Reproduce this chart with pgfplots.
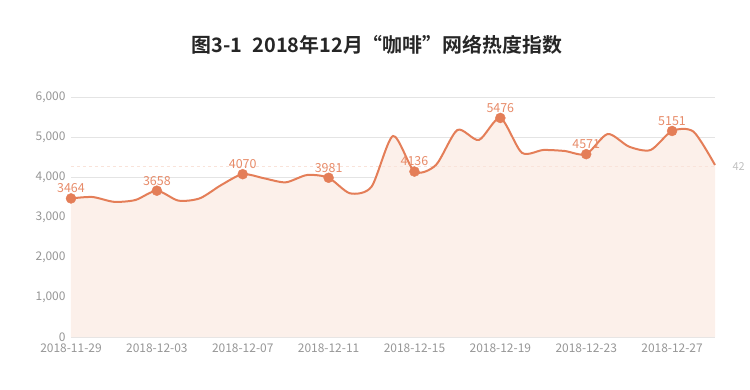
\documentclass[border=0pt]{standalone}
\usepackage{pgfplots}
\pgfplotsset{compat=1.18}
\usepackage{fontspec}
\setmainfont{Noto Sans CJK SC}
\newfontfamily\titlefont{Noto Sans CJK SC Bold}
\definecolor{lc}{RGB}{228,126,88}
\definecolor{fc}{RGB}{252,240,234}
\definecolor{tc}{RGB}{150,150,150}
\definecolor{gc}{RGB}{228,228,228}
\begin{document}
\begin{tikzpicture}[x=1bp,y=1bp]
\useasboundingbox (-71bp,-53bp) rectangle (679bp,337bp);
\begin{axis}[
  at={(0,0)}, anchor=origin,
  scale only axis, width=644bp, height=240bp,
  xmin=0, xmax=30, ymin=0, ymax=6000,
  axis lines=left, axis line style={draw=gc},
  x axis line style={-}, y axis line style={draw=none},
  xtick={0,4,...,28},
  xticklabels={2018-11-29,2018-12-03,2018-12-07,2018-12-11,2018-12-15,2018-12-19,2018-12-23,2018-12-27},
  ytick={0,1000,...,6000},
  yticklabels={0,{1,000},{2,000},{3,000},{4,000},{5,000},{6,000}},
  ymajorgrids, grid style={draw=gc, line width=0.8bp},
  major tick length=0pt,
  tick label style={font=\fontsize{12}{14}\selectfont, text=tc},
  xticklabel style={yshift=-3bp},
  yticklabel style={xshift=-2bp},
  /pgf/number format/assume math mode=true,
  clip=false,
]
\addplot[draw=none, fill=fc, smooth, tension=0.45] coordinates {
(0,3464)(1,3500)(2,3380)(3,3425)(4,3658)(5,3410)(6,3467)(7,3800)(8,4070)(9,3967)
(10,3867)(11,4050)(12,3981)(13,3592)(14,3758)(15,5025)(16,4136)(17,4300)(18,5175)(19,4925)
(20,5476)(21,4608)(22,4675)(23,4650)(24,4571)(25,5075)(26,4758)(27,4675)(28,5151)(29,5133)(30,4300)
} \closedcycle;
\addplot[draw=lc!22, dashed, line width=0.8bp] coordinates {(0,4259)(30,4259)};
\addplot[draw=lc, line width=2bp, smooth, tension=0.45] coordinates {
(0,3464)(1,3500)(2,3380)(3,3425)(4,3658)(5,3410)(6,3467)(7,3800)(8,4070)(9,3967)
(10,3867)(11,4050)(12,3981)(13,3592)(14,3758)(15,5025)(16,4136)(17,4300)(18,5175)(19,4925)
(20,5476)(21,4608)(22,4675)(23,4650)(24,4571)(25,5075)(26,4758)(27,4675)(28,5151)(29,5133)(30,4300)
};
\addplot[only marks, mark=*, mark size=5bp, mark options={fill=lc, draw=lc},
  nodes near coords, point meta=explicit symbolic,
  nodes near coords style={font=\fontsize{12.5}{14}\selectfont, text=lc!90, anchor=south, yshift=2bp}]
  coordinates {
(0,3464)[3464] (4,3658)[3658] (8,4070)[4070] (12,3981)[3981]
(16,4136)[4136] (20,5476)[5476] (24,4571)[4571] (28,5151)[5151]
};
\node[anchor=west, font=\fontsize{11}{13}\selectfont, text=tc!60] at (axis cs:30,4259) {\hspace{14bp}42};
\end{axis}
\node[font=\titlefont\fontsize{20}{24}\selectfont, text=black!85] at (306bp,292bp) {图3-1\hspace{0.5em}2018年12月“咖啡”网络热度指数};
\end{tikzpicture}
\end{document}
